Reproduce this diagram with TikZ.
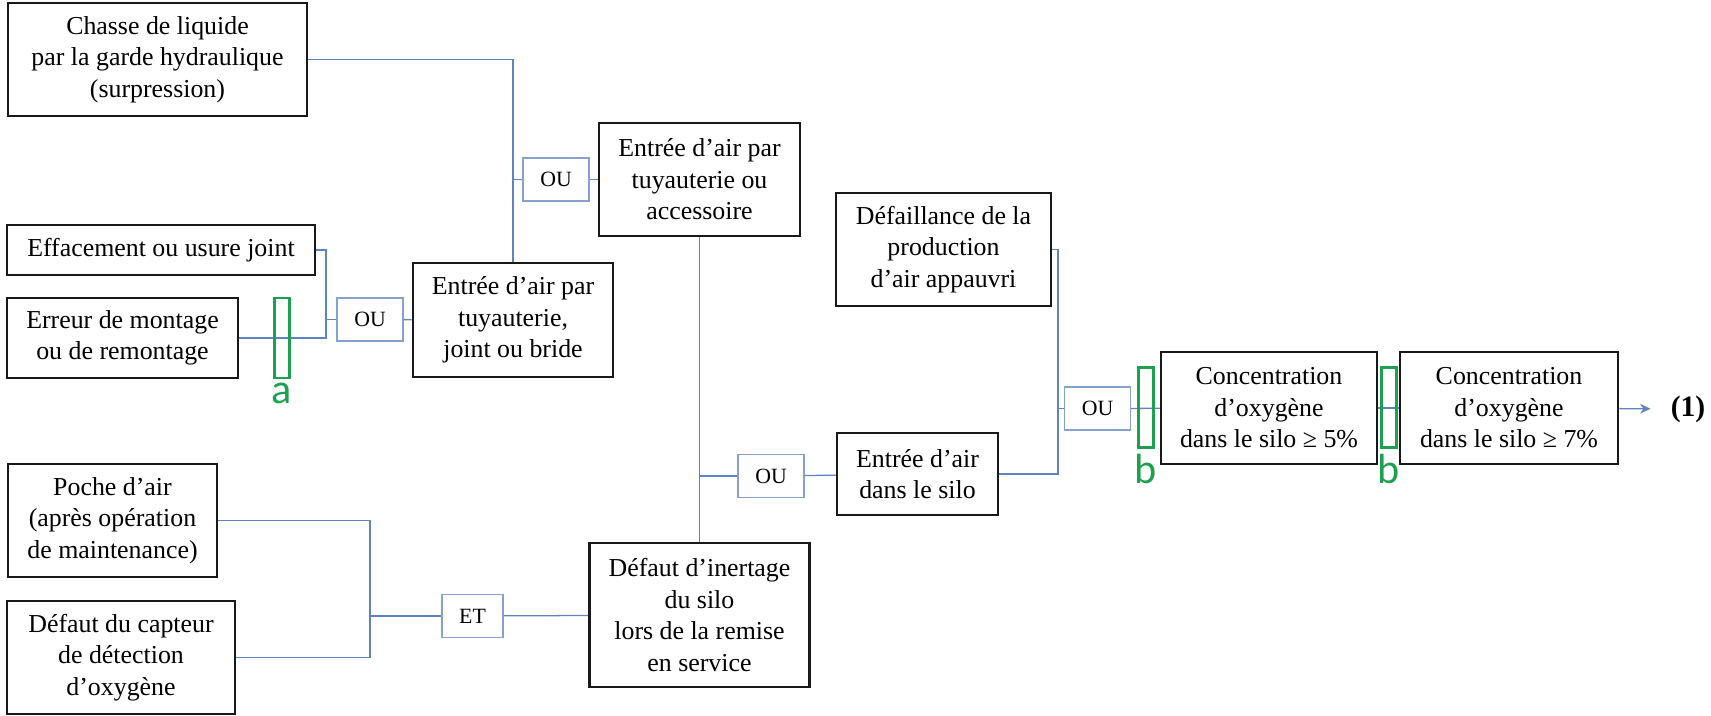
\documentclass[tikz,border=0pt]{standalone}
\usepackage{fontspec}
\setmainfont{Liberation Serif}
\newfontfamily\markfont{Carlito}
\usepackage{tikz}
\usetikzlibrary{arrows.meta, positioning}
\definecolor{linkblue}{RGB}{95,130,195}
\definecolor{gateblue}{RGB}{135,160,205}
\definecolor{markgreen}{RGB}{30,160,80}
\tikzset{
    evbox/.style={rectangle, draw=black!90, line width=1.8pt, minimum height=2.825cm, align=center, inner sep=1pt, font=\fontsize{18.4}{22.4}\selectfont},
    gatebox/.style={rectangle, draw=gateblue, line width=0.9pt, minimum width=1.65cm, minimum height=1.075cm, inner sep=0pt, font=\fontsize{15.5}{18}\selectfont},
    markbox/.style={rectangle, draw=markgreen, line width=2pt, minimum width=0.38cm, minimum height=2.02cm, inner sep=0pt},
    marklabel/.style={text=markgreen, font=\markfont\fontsize{30}{30}\selectfont, anchor=base, inner sep=0pt},
    link/.style={draw=linkblue, line width=0.9pt},
    linkarrow/.style={link, -{Stealth[length=2.6mm,width=2.4mm]}}
}
\begin{document}
\begin{tikzpicture}[x=2.5cm, y=-2.5cm]
    \useasboundingbox (0,0) rectangle (17.11,7.16);
    % Events
    \node[evbox, minimum width=7.475cm] (chasse) at (1.575,0.595) {Chasse de liquide\\par la garde hydraulique\\(surpression)};
    \node[evbox, minimum width=7.7cm, minimum height=1.25cm] (efface) at (1.61,2.5) {Effacement ou usure joint};
    \node[evbox, minimum width=5.775cm, minimum height=2cm] (erreur) at (1.225,3.38) {Erreur de montage\\ou de remontage};
    \node[evbox, minimum width=5cm, minimum height=2.85cm] (entjoint) at (5.13,3.2) {Entrée d’air par\\tuyauterie,\\joint ou bride};
    \node[evbox, minimum width=5.025cm] (entacc) at (6.995,1.795) {Entrée d’air par\\tuyauterie ou\\accessoire};
    \node[evbox, minimum width=5.225cm] (poche) at (1.125,5.205) {Poche d’air\\(après opération\\de maintenance)};
    \node[evbox, minimum width=5.7cm] (capteur) at (1.21,6.575) {Défaut du capteur\\de détection\\d’oxygène};
    \node[evbox, minimum width=5.5cm, minimum height=3.6cm] (inertage) at (6.995,6.15) {Défaut d’inertage\\du silo\\lors de la remise\\en service};
    \node[evbox, minimum width=4.025cm, minimum height=2.05cm] (entsilo) at (9.175,4.74) {Entrée d’air\\dans le silo};
    \node[evbox, minimum width=5.375cm] (defaill) at (9.435,2.495) {Défaillance de la\\production\\d’air appauvri};
    \node[evbox, minimum width=5.4cm, minimum height=2.8cm] (conc5) at (12.69,4.08) {Concentration\\d’oxygène\\dans le silo ≥ 5\%};
    \node[evbox, minimum width=5.45cm, minimum height=2.8cm] (conc7) at (15.09,4.08) {Concentration\\d’oxygène\\dans le silo ≥ 7\%};
    \node[inner xsep=0.5cm, font=\fontsize{21}{24}\selectfont\bfseries] (out) at (16.88,4.09) {(1)};

    % Gates
    \node[gatebox] (ou1) at (5.56,1.795) {OU};
    \node[gatebox] (ou2) at (3.70,3.195) {OU};
    \node[gatebox] (ou3) at (7.71,4.76) {OU};
    \node[gatebox] (ou4) at (10.975,4.085) {OU};
    \node[gatebox, minimum width=1.525cm] (et) at (4.725,6.16) {ET};

    % Junctions
    \coordinate (j2) at (3.26,3.195);
    \coordinate (j4) at (10.58,4.085);
    \coordinate (j5) at (3.70,6.16);

    % Links
    \draw[link] (chasse.east) -| (entjoint.north);
    \draw[link] (ou1.west) -- (ou1.west -| entjoint.north);
    \draw[link] (ou1) -- (entacc);
    \draw[link] (efface.east) -| (j2) |- (erreur.east);
    \draw[link] (j2) -- (ou2);
    \draw[link] (ou2) -- (entjoint);
    \draw[link] (entacc) -- (inertage);
    \draw[link] (ou3.west) -- (ou3.west -| entacc.south);
    \draw[link] (ou3) -- (entsilo);
    \draw[link] (poche.east) -| (j5) |- (capteur.east);
    \draw[link] (j5) -- (et);
    \draw[link] (et) -- (inertage);
    \draw[link] (defaill.east) -| (j4) |- (entsilo.east);
    \draw[link] (j4) -- (ou4);
    \draw[link] (ou4) -- (conc5);
    \draw[link] (conc5) -- (conc7);
    \draw[linkarrow] (conc7) -- (out);

    % Markers
    \node[markbox, minimum width=0.36cm, minimum height=2cm] (mka) at (2.82,3.38) {};
    \node[markbox] (mkb1) at (11.46,4.075) {};
    \node[markbox] (mkb2) at (13.89,4.075) {};
    \node[marklabel] (lbla) at (2.82,4.03) {a};
    \node[marklabel] (lblb1) at (11.46,4.83) {b};
    \node[marklabel] (lblb2) at (13.89,4.83) {b};
\end{tikzpicture}
\end{document}
